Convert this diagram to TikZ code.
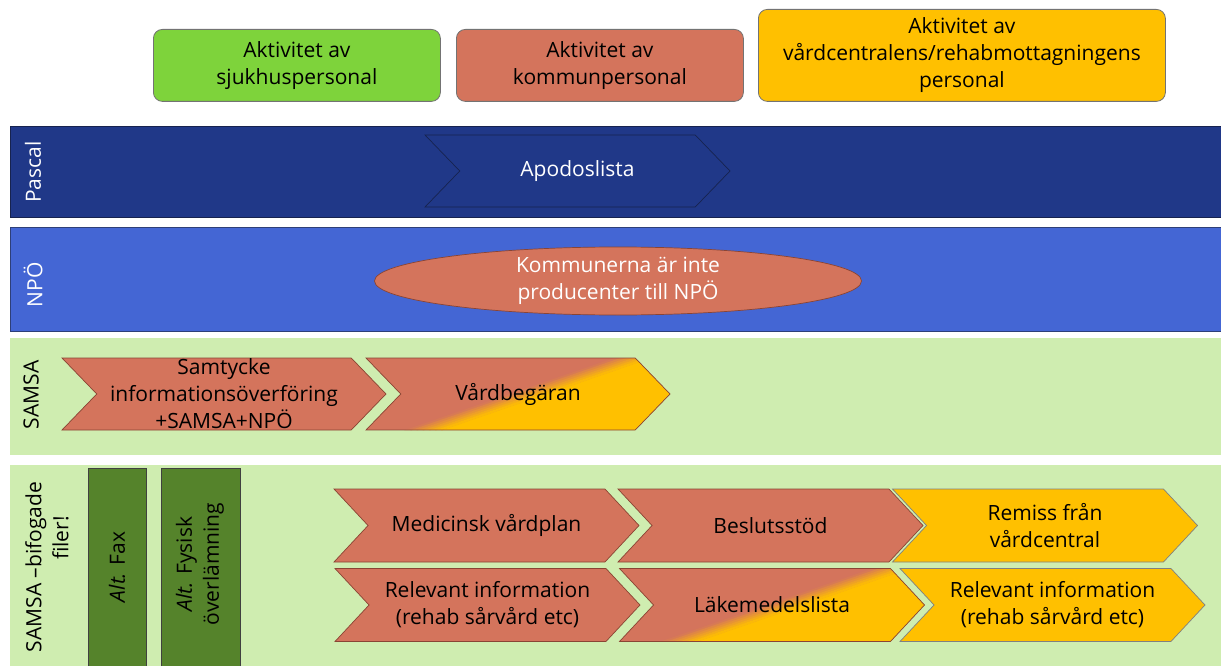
\documentclass[tikz,border=0pt]{standalone}
\usepackage{fontspec}
\setmainfont{Open Sans}
\usetikzlibrary{shapes.symbols,shapes.geometric}
\definecolor{grn}{HTML}{7ED33B}
\definecolor{sal}{HTML}{D4745C}
\definecolor{sald}{HTML}{8A4434}
\definecolor{yel}{HTML}{FFC000}
\definecolor{navy}{HTML}{203888}
\definecolor{navyd}{HTML}{17234F}
\definecolor{blu}{HTML}{4466D4}
\definecolor{blud}{HTML}{2E3F78}
\definecolor{lgrn}{HTML}{CFEDB0}
\definecolor{dkgrn}{HTML}{55832B}
\newcommand\myfs{\fontsize{21}{27}\selectfont}
% gradient fill of a chevron: #1 left x, #2 top y, #3 width, #4 height, #5 depth, #6 transition point
\newcommand\gradchev[6]{%
  \begin{scope}
    \clip (#1,#2) -- ++(#3-#5,0) -- ++(#5,#4/2) -- ++(-#5,#4/2) -- ++(-#3+#5,0) -- ++(#5,-#4/2) -- cycle;
    \fill[sal] (#1,#2) rectangle ++(#3,#4);
    \begin{scope}[shift={(#6)}, rotate=-71]
      \fill[yel] (6,-300) rectangle (300,300);
      \foreach \i in {0,...,5}{
        \pgfmathtruncatemacro\p{(\i+0.5)*100/6}
        \fill[yel!\p!sal] (-6+2*\i,-300) rectangle (-3.7+2*\i,300);
      }
    \end{scope}
  \end{scope}}
\tikzset{
  topbox/.style={draw=black!55, line width=0.8, rounded corners=9, align=center, font=\myfs, inner sep=0, anchor=north west},
  lane/.style={line width=0.8, inner sep=0, anchor=north west},
  lanelabel/.style={rotate=90, font=\myfs, align=center, inner sep=0},
  chev/.style={signal, signal from=west, signal to=east, signal pointer angle=94, draw=sald, line width=0.7, fill=sal, inner sep=0, minimum width=305, minimum height=73, align=center, font=\myfs},
  chevy/.style={chev, fill=yel, draw=black!50},
  altbox/.style={draw=black!75, line width=0.8, fill=dkgrn, inner sep=0, anchor=north west},
}
\begin{document}
\begin{tikzpicture}[x=1pt,y=-1pt]
\useasboundingbox (0,0) rectangle (1221,666);
\fill[white] (0,0) rectangle (1221,666);
% legend boxes
\node[topbox, fill=grn, minimum width=287, minimum height=72] (hosp) at (153,29) {Aktivitet av\\sjukhuspersonal};
\node[topbox, fill=sal, minimum width=287, minimum height=72] (komm) at (456,29) {Aktivitet av\\kommunpersonal};
\node[topbox, fill=yel, minimum width=407, minimum height=92] (vc) at (758,9) {Aktivitet av\\vårdcentralens/rehabmottagningens\\personal};
% Pascal lane
\node[lane, fill=navy, draw=navyd, minimum width=1215, minimum height=91] (pascal) at (10,126) {};
\node[lanelabel, text=white] (pascallbl) at (33,172) {Pascal};
\node[chev, signal pointer angle=92, fill=navy, draw=navyd, text=white, minimum height=72] (apo) at (577.5,171) {Apodoslista};
% NPÖ lane
\node[lane, fill=blu, draw=blud, minimum width=1215, minimum height=104] (npo) at (10,227) {};
\node[lanelabel, text=white] (npolbl) at (33,285) {NPÖ};
\node[ellipse, draw=sald, line width=0.7, fill=sal, text=white, minimum width=487, minimum height=68, inner sep=0, align=center, font=\myfs] (komnpo) at (618,281) {Kommunerna är inte\\producenter till NPÖ};
% SAMSA lane
\node[lane, fill=lgrn, minimum width=1215, minimum height=117] (samsa) at (10,338) {};
\node[lanelabel] (samsalbl) at (31,395) {SAMSA};
\node[chev, signal pointer angle=92, minimum width=324, minimum height=72,
  label={[font=\myfs, align=center]center:Samtycke\\informationsöverföring\\+SAMSA+NPÖ}] (samt) at (224,394) {};
\gradchev{366}{358}{304}{72}{34.8}{528,394}
\node[chev, signal pointer angle=92, minimum width=304, minimum height=72, fill=none] (vardb) at (518,394) {Vårdbegäran};
% SAMSA bifogade lane
\node[lane, fill=lgrn, minimum width=1215, minimum height=215] (bifo) at (10,465) {};
\node[lanelabel] (bifolbl) at (47,567) {SAMSA –bifogade\\\hspace*{58pt}filer!};
\node[altbox, minimum width=58, minimum height=205] (fax) at (88,468) {};
\node[lanelabel] (faxlbl) at (117,567) {\textit{Alt.} Fax};
\node[altbox, minimum width=79, minimum height=205] (fys) at (161,468) {};
\node[lanelabel] (fyslbl) at (200,564) {\textit{Alt.} Fysisk\\överlämning};
% bottom chevrons
\node[chev] (medv) at (486.5,525.5) {Medicinsk vårdplan};
\node[chev] (besl) at (770.5,525.5) {Beslutsstöd};
\node[chevy] (remiss) at (1045,525.5) {Remiss från\\vårdcentral};
\node[chev] (rel1) at (487.5,605) {Relevant information\\(rehab sårvård etc)};
\gradchev{619.5}{568.5}{305}{73}{34}{785,605}
\node[chev, fill=none] (lakem) at (772,605) {Läkemedelslista};
\node[chevy] (rel2) at (1052.5,605) {Relevant information\\(rehab sårvård etc)};
\end{tikzpicture}
\end{document}
